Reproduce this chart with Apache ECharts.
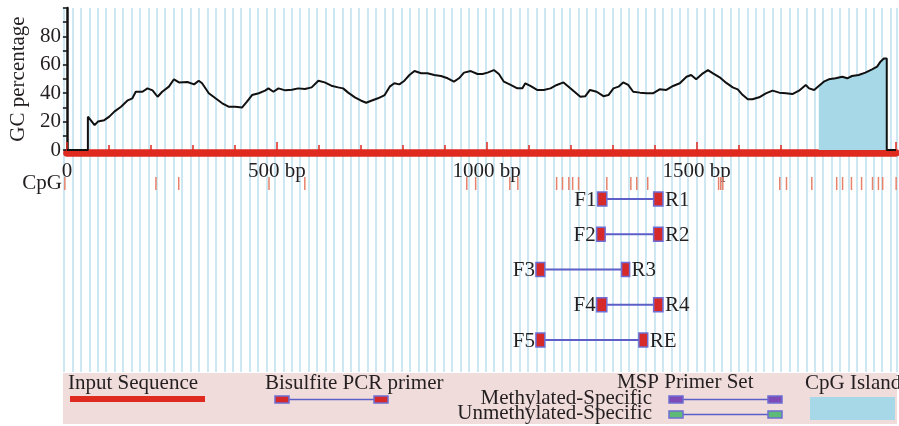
<!DOCTYPE html>
<html lang="en">
<head>
<meta charset="UTF-8">
<title>GC percentage / primers</title>
<script src="https://cdn.jsdelivr.net/npm/echarts@6/dist/echarts.min.js"></script>
<style>
    html, body { margin: 0; padding: 0; background: #fff; }
    #box { width: 899px; height: 426px; }
</style>
</head>
<body>
<div id="box"></div>
<script>
    // sequence length in bp
    var seqLen = 1975;

    // GC percentage curve (bp, %)
    var gcPos = [0, 50, 50, 54, 66, 74, 89, 101, 113, 129, 145, 156, 164, 180, 192, 204, 216, 227, 243, 255, 267, 287, 303, 314, 322, 338, 354, 370, 385, 401, 417, 429, 441, 457, 472, 480, 492,
        504, 520, 536, 551, 567, 583, 599, 614, 630, 646, 658, 670, 686, 701, 713, 725, 741, 757, 769, 780, 792, 804, 816, 828, 844, 859, 875, 891, 907, 922, 934, 946, 962, 978, 990,
        1002, 1017, 1029, 1041, 1057, 1073, 1085, 1092, 1104, 1120, 1136, 1152, 1167, 1183, 1195, 1207, 1223, 1235, 1246, 1262, 1278, 1290, 1302, 1314, 1325, 1337, 1349, 1365, 1381, 1396, 1412, 1428, 1444, 1460, 1476, 1487,
        1499, 1515, 1527, 1539, 1555, 1570, 1586, 1598, 1610, 1622, 1633, 1649, 1665, 1681, 1697, 1713, 1728, 1744, 1760, 1768, 1780, 1791, 1803, 1815, 1831, 1847, 1859, 1870, 1886, 1902, 1918, 1930, 1938, 1946, 1953, 1953, 1975];
    var gcVal = [0, 0, 23.5, 22.8, 17.6, 20, 21, 23.5, 27, 30.5, 35, 36.4, 41, 41, 43.4, 42, 37.5, 41, 44.6, 49.8, 47.6, 47.9, 46.2, 48.8, 47, 40, 36.4, 32.9, 30.5, 30.5, 29.9, 34, 38.7, 40, 41.8, 43.4, 41,
        43.4, 42, 42.5, 43.4, 42.9, 44.1, 48.8, 47.6, 45.3, 44.1, 43.4, 40.4, 37.1, 34.7, 33.3, 34.7, 36.4, 38.7, 44.6, 47, 46.2, 48.8, 52.8, 55.6, 54, 54, 52.8, 52.1, 50.5, 48.1, 50.5, 54.5, 55.6, 53.5, 53.5,
        54.5, 56.3, 53.5, 48.1, 45.8, 43.4, 43.4, 47, 45.1, 42.3, 42.3, 43.4, 45.8, 47.6, 44.6, 41.5, 37.5, 37.9, 42.3, 41, 37.9, 38.7, 43.4, 44.6, 47.6, 45.8, 41, 40.4, 39.9, 39.9, 42.7, 42.3, 45.1, 47, 51.6, 52.8,
        49.8, 54, 56.3, 54, 51.2, 47.4, 44.1, 42.7, 38.7, 35.7, 35.7, 37.1, 39.9, 41.8, 40.4, 39.9, 39.4, 41.8, 45.8, 43.4, 42.3, 45.1, 48.1, 49.8, 50.5, 51.6, 50.5, 52.1, 52.8, 54.5, 56.8, 58.7, 62.2, 64.5, 64.5, 0, 0];

    // CpG island
    var islandStart = 1787;
    var islandEnd = 1953;

    // CpG sites (bp)
    var cpgSites = [2, 218, 272, 486, 571, 955, 976, 1057, 1076, 1168, 1182, 1197, 1206, 1220, 1287, 1344, 1358, 1384,
        1552, 1557, 1562, 1697, 1713, 1773, 1832, 1846, 1867, 1891, 1917, 1931, 1941, 1973];

    // primer sets
    var fwdLabels = ['F1', 'F2', 'F3', 'F4', 'F5'];
    var revLabels = ['R1', 'R2', 'R3', 'R4', 'RE'];
    var fwdStart = [1265, 1263, 1119, 1263, 1119];
    var fwdEnd = [1287, 1283, 1140, 1287, 1140];
    var revStart = [1398, 1398, 1322, 1398, 1363];
    var revEnd = [1420, 1420, 1341, 1420, 1384];

    // tick labels
    var xLabelVals = [0, 500, 1000, 1500];
    var xLabelText = ['0', '500 bp', '1000 bp', '1500 bp'];
    var yLabelVals = [0, 20, 40, 60, 80];

    var font = '"Liberation Serif", "DejaVu Serif", serif';
    var fs = 21;
    var txt = '#231f20';
    var red = '#df2a1f';
    var edge = '#6d6dd4';

    var gcData = gcPos.map(function (p, i) { return [p, gcVal[i]]; });
    var islandData = gcData.filter(function (d) { return d[0] >= islandStart && d[0] <= islandEnd; });
    var cpgData = cpgSites.map(function (p) { return [p, 1]; });
    var primerData = fwdStart.map(function (s, i) { return [s, fwdEnd[i], revStart[i], revEnd[i], i]; });

    function renderPrimer(params, api) {
        var i = params.dataIndex;
        var row = api.value(4);
        var a = api.coord([api.value(0), row]);
        var b = api.coord([api.value(1), row]);
        var c = api.coord([api.value(2), row]);
        var d = api.coord([api.value(3), row]);
        var y = a[1], h = 14;
        return {
            type: 'group',
            children: [
                { type: 'line', shape: { x1: b[0], y1: y, x2: c[0], y2: y }, style: { stroke: '#5b5fc7', lineWidth: 2 } },
                { type: 'rect', shape: { x: a[0], y: y - h / 2, width: b[0] - a[0], height: h }, style: { fill: '#d62a2a', stroke: edge, lineWidth: 1.5 } },
                { type: 'rect', shape: { x: c[0], y: y - h / 2, width: d[0] - c[0], height: h }, style: { fill: '#d62a2a', stroke: edge, lineWidth: 1.5 } },
                { type: 'text', style: { text: fwdLabels[i], x: a[0] - 1, y: y + 1, textAlign: 'right', textVerticalAlign: 'middle', font: fs + 'px ' + font, fill: txt } },
                { type: 'text', style: { text: revLabels[i], x: d[0] + 2, y: y + 1, textAlign: 'left', textVerticalAlign: 'middle', font: fs + 'px ' + font, fill: txt } }
            ]
        };
    }

    function legendText(t, x, y, align) {
        return { type: 'text', style: { text: t, x: x, y: y, textAlign: align || 'left', textVerticalAlign: 'middle', font: fs + 'px ' + font, fill: txt }, z: 11 };
    }
    function primerSymbol(x1, x2, y, color) {
        return [
            { type: 'line', shape: { x1: x1 + 14, y1: y, x2: x2, y2: y }, style: { stroke: '#5b5fc7', lineWidth: 1.5 }, z: 11 },
            { type: 'rect', shape: { x: x1, y: y - 3.5, width: 14, height: 7 }, style: { fill: color, stroke: edge, lineWidth: 1.5 }, z: 12 },
            { type: 'rect', shape: { x: x2, y: y - 3.5, width: 14, height: 7 }, style: { fill: color, stroke: edge, lineWidth: 1.5 }, z: 12 }
        ];
    }

    var graphics = [
        { type: 'rect', shape: { x: 63, y: 373, width: 834, height: 51 }, style: { fill: '#f0dcdb' }, z: 10 },
        legendText('Input Sequence', 68, 383.5),
        { type: 'rect', shape: { x: 70, y: 396, width: 135, height: 6 }, style: { fill: red }, z: 11 },
        legendText('Bisulfite PCR primer', 265, 383.5),
        legendText('MSP Primer Set', 617, 382.5),
        legendText('Methylated-Specific', 652, 398, 'right'),
        legendText('Unmethylated-Specific', 652, 413.5, 'right'),
        legendText('CpG Island', 805, 383),
        { type: 'rect', shape: { x: 810, y: 397, width: 85, height: 23 }, style: { fill: '#a7d8e8' }, z: 11 }
    ].concat(primerSymbol(275, 374, 399.5, '#d62a2a'))
     .concat(primerSymbol(669, 768, 399.5, '#7e4bb6'))
     .concat(primerSymbol(669, 768, 414.5, '#5dba77'));

    var chartDom = document.getElementById('box');
    var myChart = echarts.init(chartDom);
    var hidden = { axisLine: { show: false }, axisTick: { show: false }, axisLabel: { show: false }, splitLine: { show: false } };

    var option = {
        animation: false,
        grid: [
            { left: 64, right: 2, top: 8, bottom: 54 },
            { left: 64, right: 2, top: 8, height: 142 },
            { left: 64, right: 2, top: 177, height: 13 },
            { left: 64, right: 2, top: 181.4, height: 176.25 }
        ],
        xAxis: [
            {
                gridIndex: 0, type: 'value', min: 0, max: seqLen, interval: 20, z: 0,
                axisLine: { show: false }, axisTick: { show: false }, axisLabel: { show: false },
                splitLine: { show: true, lineStyle: { color: '#cde8f3', width: 2 } }
            },
            {
                gridIndex: 1, type: 'value', min: 0, max: seqLen, interval: 100, position: 'bottom', offset: 3, z: 1,
                axisLine: { onZero: false, lineStyle: { color: red, width: 7.5 } },
                axisTick: { inside: true, length: 8, lineStyle: { color: red, width: 1.5 } },
                axisLabel: {
                    margin: 8, fontSize: fs, fontFamily: font, color: txt,
                    formatter: function (v) {
                        var k = xLabelVals.indexOf(v);
                        return k >= 0 ? xLabelText[k] : '';
                    }
                },
                splitLine: { show: false }
            },
            {
                gridIndex: 1, type: 'value', min: 0, max: seqLen, interval: 500, position: 'bottom', offset: 3, z: 1,
                axisLine: { show: false, onZero: false },
                axisTick: { inside: true, length: 11, lineStyle: { color: red, width: 1.5 } },
                axisLabel: { show: false }, splitLine: { show: false }
            },
            Object.assign({ gridIndex: 2, type: 'value', min: 0, max: seqLen }, hidden),
            Object.assign({ gridIndex: 3, type: 'value', min: 0, max: seqLen }, hidden)
        ],
        yAxis: [
            { gridIndex: 0, type: 'value', min: 0, max: 1, show: false },
            {
                gridIndex: 1, type: 'value', min: 0, max: 100, interval: 20, z: 1,
                name: 'GC percentage', nameLocation: 'middle', nameGap: 36,
                nameTextStyle: { fontSize: fs, fontFamily: font, color: txt },
                axisLine: { show: true, lineStyle: { color: '#111', width: 2.5 } },
                axisTick: { show: true, length: 4, lineStyle: { color: '#111', width: 1.5 } },
                minorTick: { show: true, splitNumber: 2, length: 4, lineStyle: { color: '#111', width: 1.5 } },
                axisLabel: {
                    margin: 6, fontSize: fs, fontFamily: font, color: txt,
                    formatter: function (v) { return yLabelVals.indexOf(v) >= 0 ? String(v) : ''; }
                },
                splitLine: { show: false }
            },
            Object.assign({
                gridIndex: 2, type: 'value', min: 0, max: 1,
                name: 'CpG', nameLocation: 'middle', nameRotate: 0, nameGap: 2,
                nameTextStyle: { fontSize: fs, fontFamily: font, color: txt }
            }, hidden),
            { gridIndex: 3, type: 'category', data: fwdLabels, inverse: true, show: false }
        ],
        graphic: graphics,
        series: [
            {
                name: 'CpG island', type: 'line', xAxisIndex: 1, yAxisIndex: 1, z: 2,
                data: islandData, showSymbol: false,
                lineStyle: { width: 0 },
                areaStyle: { color: '#a7d8e8', opacity: 1 }
            },
            {
                name: 'GC', type: 'line', xAxisIndex: 1, yAxisIndex: 1, z: 3,
                data: gcData, showSymbol: false,
                lineStyle: { color: '#111', width: 2 }
            },
            {
                name: 'CpG', type: 'bar', xAxisIndex: 3, yAxisIndex: 2,
                data: cpgData, barWidth: 1.5,
                itemStyle: { color: '#e8826a' }
            },
            {
                name: 'primers', type: 'custom', xAxisIndex: 4, yAxisIndex: 3,
                renderItem: renderPrimer,
                encode: { x: [0, 1, 2, 3], y: 4 },
                data: primerData
            }
        ]
    };

    option && myChart.setOption(option);
</script>
</body>
</html>
